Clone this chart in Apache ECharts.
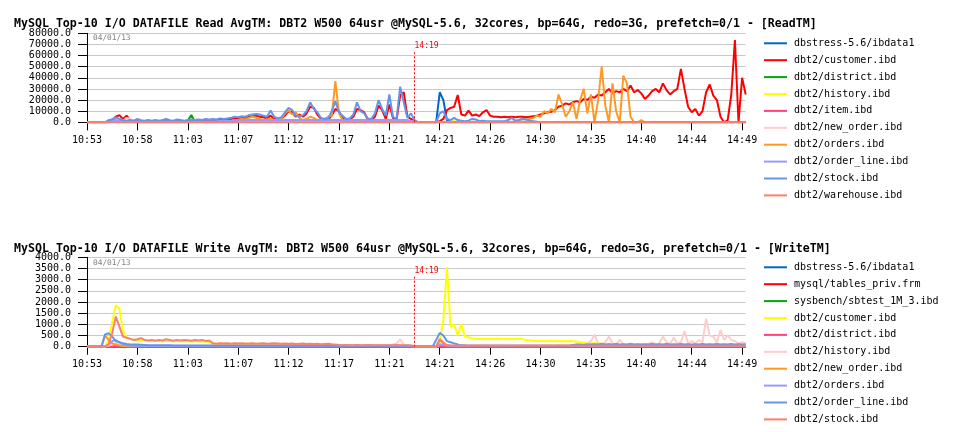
<!DOCTYPE html>
<html>
<head>
<meta charset="utf-8">
<script src="https://cdn.jsdelivr.net/npm/echarts@6.0.0/dist/echarts.min.js"></script>
<style>
html,body{margin:0;padding:0;background:#ffffff;}
#chart{width:962px;height:432px;}
</style>
</head>
<body>
<div id="chart"></div>
<script>
const tickLabels = ['10:53','10:58','11:03','11:07','11:12','11:17','11:21','14:21','14:26','14:30','14:35','14:40','14:44','14:49'];
const restartLabel = '14:19';
const dateLabel = '04/01/13';
const readTitle = 'MySQL Top-10 I/O DATAFILE Read AvgTM: DBT2 W500 64usr @MySQL-5.6, 32cores, bp=64G, redo=3G, prefetch=0/1 - [ReadTM]';
const writeTitle = 'MySQL Top-10 I/O DATAFILE Write AvgTM: DBT2 W500 64usr @MySQL-5.6, 32cores, bp=64G, redo=3G, prefetch=0/1 - [WriteTM]';
const readFiles = ['dbstress-5.6/ibdata1','dbt2/customer.ibd','dbt2/district.ibd','dbt2/history.ibd','dbt2/item.ibd','dbt2/new_order.ibd','dbt2/orders.ibd','dbt2/order_line.ibd','dbt2/stock.ibd','dbt2/warehouse.ibd'];
const writeFiles = ['dbstress-5.6/ibdata1','mysql/tables_priv.frm','sysbench/sbtest_1M_3.ibd','dbt2/customer.ibd','dbt2/district.ibd','dbt2/history.ibd','dbt2/new_order.ibd','dbt2/orders.ibd','dbt2/order_line.ibd','dbt2/stock.ibd'];
const palette = ['#0066cc','#ff0000','#00aa00','#ffff00','#ff4477','#ffcccc','#ff9922','#9999ff','#6495ed','#f88070'];

// ---------- Read AvgTM (one value per 20 s sample) ----------
const readIbdata1 = [
0,0,0,0,0,0,0,0,0,0,0,0,0,0,
0,0,0,0,0,0,0,0,0,0,0,0,0,0,
0,0,0,0,0,0,0,0,0,0,0,0,0,0,
0,0,0,0,0,0,0,0,0,0,0,0,0,0,
0,0,0,0,0,0,0,0,0,0,0,0,0,0,
0,0,0,0,0,0,0,0,0,0,0,0,0,0,
0,0,0,0,0,0,0,0,0,0,0,0,0,0,
27000,20000,2000,0,0,0,0,0,0,0,0,0,0,0,
0,0,0,0,0,0,0,0,0,0,0,0,0,0,
0,0,0,0,0,0,0,0,0,0,0,0,0,0,
0,0,0,0,0,0,0,0,0,0,0,0,0,0,
0,0,0,0,0,0,0,0,0,0,0,0,0,0,
0,0,0,0,0,0,0,0,0,0,0,0,0,0,
0,0];
const readCustomer = [
0,0,0,0,0,0,0,2000,5000,6500,3000,6000,2000,1000,
1500,1000,800,1200,1000,1500,1000,1200,2000,1000,1000,1500,1200,1000,
1200,1500,1200,1500,1200,2000,1500,2000,1500,2500,2000,2500,3000,3500,
3000,4000,3500,5000,5500,6000,5000,4500,3500,6000,3000,2500,3000,6000,
10000,9000,5000,7000,5000,8000,14000,13000,7000,3000,2000,2500,6000,12000,
10000,4000,2000,2500,5000,12000,11000,9000,2500,2000,5000,15000,11000,3000,
16000,4000,2000,24000,27000,5000,3000,1000,0,0,0,0,0,0,
1000,3000,11000,13000,14000,24500,7000,6000,10500,6000,7000,5500,9000,11000,
6000,5000,5000,4500,5000,4500,5000,4500,5000,5000,4500,5000,5500,6000,
7000,8000,9000,9500,11000,14000,15000,17000,16000,18000,19000,18000,21000,20000,
23000,22000,25000,24000,27000,30000,26000,28000,27000,30000,28000,33000,27000,29000,
26000,21000,24000,28000,30000,27000,35000,29000,25000,28000,30000,48000,30000,14000,
9000,12000,6000,10000,27000,34000,24000,20000,5000,0,2000,25000,74000,0,
40000,25000];
const readDistrict = [
0,0,0,0,0,0,0,2500,0,0,0,0,0,0,
0,0,0,0,0,0,0,0,0,0,0,0,0,0,
1500,6500,0,0,0,0,0,0,0,0,0,0,0,0,
0,0,0,0,0,0,0,0,0,0,0,0,0,0,
0,0,0,0,0,0,0,0,0,0,0,0,0,0,
0,0,0,0,0,0,0,0,0,0,0,0,0,0,
0,0,0,0,0,0,0,0,0,0,0,0,0,0,
0,0,0,0,0,0,0,0,0,0,0,0,0,0,
0,0,0,0,0,0,0,0,0,0,0,0,0,0,
0,0,0,0,0,0,0,0,0,0,0,0,0,0,
0,0,0,0,0,0,0,0,0,0,0,0,0,0,
0,0,0,0,0,0,0,0,0,0,0,0,0,0,
0,0,0,0,0,0,0,0,0,0,0,0,0,0,
0,0];
const readHistory = [
0,0,0,0,0,0,0,0,0,0,0,0,0,0,
0,0,0,0,0,0,0,0,0,0,0,0,0,0,
0,0,0,0,0,0,0,0,0,0,0,0,0,0,
0,0,0,0,0,0,0,0,0,0,0,0,0,0,
0,0,0,0,0,0,0,0,0,0,0,0,0,0,
0,0,0,0,0,0,0,0,0,0,0,0,0,0,
0,0,0,0,0,0,0,0,0,0,0,0,0,0,
0,0,0,0,1500,0,0,0,0,0,0,0,0,0,
0,0,0,0,0,0,0,0,0,0,0,0,0,0,
0,0,0,0,0,0,0,0,0,0,0,0,0,0,
0,0,0,0,0,0,0,0,0,0,0,0,0,0,
0,0,0,0,0,0,0,0,0,0,0,0,0,0,
0,0,0,0,0,0,0,0,0,0,0,0,0,0,
0,0];
const readItem = [
0,0,0,0,0,0,0,0,0,1500,0,0,0,0,
0,0,0,0,0,0,0,0,0,0,0,0,0,0,
0,0,0,0,0,0,0,0,0,0,0,0,0,0,
0,0,0,0,0,0,0,0,0,0,0,0,0,0,
0,0,0,0,0,0,0,0,0,0,0,0,0,0,
0,0,0,0,0,0,0,0,0,0,0,0,0,0,
0,0,0,0,0,0,0,0,0,0,0,0,0,0,
0,0,0,0,0,0,0,0,0,0,0,0,0,0,
0,0,0,0,0,0,0,0,0,0,0,0,0,0,
0,0,0,0,0,0,0,0,0,0,0,0,0,0,
0,0,0,0,0,0,0,0,0,0,0,0,0,0,
0,0,0,0,0,0,0,0,0,0,0,0,0,0,
0,0,0,0,0,0,0,0,0,0,0,0,0,0,
0,0];
const readNewOrder = [
0,0,0,0,0,0,0,0,0,0,1000,4000,3000,0,
0,0,0,0,0,0,0,0,0,0,0,0,0,0,
0,0,0,0,0,0,0,0,0,0,0,0,0,0,
0,0,0,0,0,0,0,0,0,0,0,0,0,0,
0,0,0,0,0,0,0,0,0,0,0,0,0,0,
0,0,0,0,0,0,0,0,0,0,0,0,0,0,
0,0,0,0,0,0,0,0,0,0,0,0,0,0,
0,0,0,0,0,0,0,0,0,0,0,0,0,0,
0,0,0,0,0,0,0,0,0,0,0,0,0,0,
0,0,0,0,0,0,0,0,0,0,0,0,0,0,
0,0,0,0,0,0,0,0,0,0,0,0,0,0,
0,0,0,0,0,0,0,0,0,0,0,0,0,0,
0,0,0,0,0,0,0,0,0,0,0,0,0,0,
0,0];
const readOrders = [
0,0,0,0,0,0,0,0,0,0,0,0,0,0,
0,0,0,0,0,0,0,0,0,0,0,0,0,0,
0,0,0,0,0,0,0,0,0,0,0,0,500,1000,
2000,3000,2500,4000,5000,4000,3000,2000,2500,3000,2000,1500,3000,8000,
11000,7000,9000,4000,2000,3000,5000,4000,2000,1500,3000,5000,6000,37000,
8000,2000,1500,1000,2000,1500,1000,1500,1000,2000,1000,1500,1000,1000,
1000,1500,1000,1000,1500,1000,1000,500,0,0,0,0,0,0,
0,0,0,0,0,0,0,0,0,0,0,0,0,0,
0,0,0,0,0,0,500,1000,2000,3000,2500,3000,4000,6000,
5000,10000,8000,12000,9000,25000,16000,5000,10000,18000,3000,20000,30000,8000,
25000,0,20000,50000,15000,0,35000,10000,0,42000,35000,5000,0,0,
2000,0,0,0,0,0,0,0,0,0,0,0,0,0,
0,0,0,0,0,0,0,0,0,0,0,0,0,0,
0,0];
const readOrderLine = [
0,0,0,0,0,0,1000,1500,2000,1500,1000,1000,1000,1000,
1000,1000,1000,1000,1000,1000,1000,1000,1000,1000,1000,1000,1000,1000,
1000,1000,1000,1000,1000,1000,1000,1000,1000,1500,1500,1500,1500,2000,
2000,2000,2000,2000,2000,2000,2000,2000,2000,2000,2000,2000,2000,2000,
2000,2000,2000,2000,2000,2000,2000,2000,2000,2000,2000,2000,2000,2000,
2000,2000,2000,2000,2000,2000,2000,2000,2000,2000,2000,2000,2000,2000,
2000,2000,2000,2000,2000,2000,1000,1000,0,0,0,0,0,0,
0,0,0,0,0,0,0,0,0,0,0,0,0,0,
0,0,0,0,0,0,0,0,0,0,0,0,0,0,
0,0,0,0,0,0,0,0,0,0,0,0,0,0,
0,0,0,0,0,0,0,0,0,0,0,0,0,0,
0,0,0,0,0,0,0,0,0,0,0,0,0,0,
0,0,0,0,0,0,0,0,0,0,0,0,0,0,
0,0];
const readStock = [
0,0,0,0,0,0,2000,2500,4500,3000,2000,1500,2000,1500,
3000,1800,1500,2000,1500,2000,1500,2000,3000,1800,1500,2500,2000,1500,
2000,2500,2000,2500,2000,3000,2500,3000,2500,3500,3000,3500,4000,5000,
4500,5500,5000,6500,7000,7500,7000,6000,5000,10500,5000,3500,4500,9000,
13000,11000,6000,5000,6500,10000,18000,12000,9000,4000,3000,3500,10000,19000,
9000,6000,3000,3500,7000,18000,10000,8000,3500,3000,8000,20000,12000,6000,
25000,5000,3000,32000,18000,4000,8000,2000,0,0,0,0,0,0,
8000,10000,3000,2000,4000,2000,1500,1000,1500,3000,2500,1000,1500,1000,
1000,1000,1000,1000,1000,2000,4000,1500,2000,3000,2500,1500,1000,500,
0,0,0,0,0,0,0,0,0,0,0,0,0,0,
0,0,0,0,0,0,0,0,0,0,0,0,0,0,
0,0,0,0,0,0,0,0,0,0,0,0,0,0,
0,0,0,0,0,0,0,0,0,0,0,0,0,0,
0,0];
const readWarehouse = [
0,0,0,0,0,0,0,0,0,0,0,0,0,0,
0,0,0,0,0,0,0,0,0,0,0,0,0,0,
0,0,0,0,0,0,0,0,0,0,0,0,0,0,
0,0,0,0,0,0,0,0,0,0,0,0,0,0,
0,0,0,0,0,0,0,0,0,0,0,0,0,0,
0,0,0,0,0,0,0,0,0,0,0,0,0,0,
0,0,0,0,0,0,0,0,0,0,0,0,0,0,
0,0,0,0,0,0,0,0,0,0,0,0,0,0,
0,0,0,0,0,0,0,0,0,0,0,0,0,0,
0,0,0,0,0,0,0,0,0,0,0,0,0,0,
0,0,0,0,0,0,0,0,0,0,0,0,0,0,
0,0,0,0,0,0,0,0,0,0,0,0,0,0,
0,0,0,0,0,0,0,0,0,0,0,0,0,0,
0,0];

// ---------- Write AvgTM ----------
const writeIbdata1 = readWarehouse.slice(0, 0).concat([
0,0,0,0,0,0,0,0,0,0,0,0,0,0,
0,0,0,0,0,0,0,0,0,0,0,0,0,0,
0,0,0,0,0,0,0,0,0,0,0,0,0,0,
0,0,0,0,0,0,0,0,0,0,0,0,0,0,
0,0,0,0,0,0,0,0,0,0,0,0,0,0,
0,0,0,0,0,0,0,0,0,0,0,0,0,0,
0,0,0,0,0,0,0,0,0,0,0,0,0,0,
0,0,0,0,0,0,0,0,0,0,0,0,0,0,
0,0,0,0,0,0,0,0,0,0,0,0,0,0,
0,0,0,0,0,0,0,0,0,0,0,0,0,0,
0,0,0,0,0,0,0,0,0,0,0,0,0,0,
0,0,0,0,0,0,0,0,0,0,0,0,0,0,
0,0,0,0,0,0,0,0,0,0,0,0,0,0,
0,0]);
const writeTablesPriv = [
0,0,0,0,0,0,0,0,0,0,0,0,0,0,
0,0,0,0,0,0,0,0,0,0,0,0,0,0,
0,0,0,0,0,0,0,0,0,0,0,0,0,0,
0,0,0,0,0,0,0,0,0,0,0,0,0,0,
0,0,0,0,0,0,0,0,0,0,0,0,0,0,
0,0,0,0,0,0,0,0,0,0,0,0,0,0,
0,0,0,0,0,0,0,0,0,0,0,0,0,0,
0,0,0,0,0,0,0,0,0,0,0,0,0,0,
0,0,0,0,0,0,0,0,0,0,0,0,0,0,
0,0,0,0,0,0,0,0,0,0,0,0,0,0,
0,0,0,0,0,0,0,0,0,0,0,0,0,0,
0,0,0,0,0,0,0,0,0,0,0,0,0,0,
0,0,0,0,0,0,0,0,0,0,0,0,0,0,
0,0];
const writeSbtest = [
0,0,0,0,0,0,0,0,0,0,0,0,0,0,
0,0,0,0,0,0,0,0,0,0,0,0,0,0,
0,0,0,0,0,0,0,0,0,0,0,0,0,0,
0,0,0,0,0,0,0,0,0,0,0,0,0,0,
0,0,0,0,0,0,0,0,0,0,0,0,0,0,
0,0,0,0,0,0,0,0,0,0,0,0,0,0,
0,0,0,0,0,0,0,0,0,0,0,0,0,0,
0,0,0,0,0,0,0,0,0,0,0,0,0,0,
0,0,0,0,0,0,0,0,0,0,0,0,0,0,
0,0,0,0,0,0,0,0,0,0,0,0,0,0,
0,0,0,0,0,0,0,0,0,0,0,0,0,0,
0,0,0,0,0,0,0,0,0,0,0,0,0,0,
0,0,0,0,0,0,0,0,0,0,0,0,0,0,
0,0];
const writeCustomer = [
0,0,0,0,0,0,300,1100,1850,1700,700,400,350,300,
280,250,300,260,240,280,250,230,270,250,240,260,230,250,
240,220,250,230,240,220,200,140,130,140,120,130,130,120,
130,120,140,130,110,130,120,130,110,120,130,110,120,100,
110,100,120,100,110,90,100,80,90,70,80,70,60,70,
60,70,50,60,50,60,50,40,50,60,40,50,40,50,
40,50,40,50,40,30,40,20,0,0,0,0,0,0,
200,1200,3550,900,1000,500,1000,450,420,380,350,360,350,340,
340,350,360,350,340,350,360,340,350,330,300,280,260,250,
250,240,250,260,250,240,250,240,250,240,230,200,190,170,
160,150,150,140,130,120,110,100,60,40,40,30,30,40,
40,30,40,30,40,30,40,30,40,30,40,30,40,30,
40,30,40,30,40,30,40,30,40,30,40,30,40,30,
40,30];
const writeDistrict = [
0,0,0,0,0,0,0,0,0,0,0,0,0,0,
0,0,0,0,0,0,0,0,0,0,0,0,0,0,
0,0,0,0,0,0,0,0,0,0,0,0,0,0,
0,0,0,0,0,0,0,0,0,0,0,0,0,0,
0,0,0,0,0,0,0,0,0,0,0,0,0,0,
0,0,0,0,0,0,0,0,0,0,0,0,0,0,
0,0,0,0,0,0,0,0,0,0,0,0,0,0,
0,0,0,0,0,0,0,0,0,0,0,0,0,0,
0,0,0,0,0,0,0,0,0,0,0,0,0,0,
0,0,0,0,0,0,0,0,0,0,0,0,0,0,
0,0,0,0,0,0,0,0,0,0,0,0,0,0,
0,0,0,0,0,0,0,0,0,0,0,0,0,0,
0,0,0,0,0,0,0,0,0,0,0,0,0,0,
0,0];
const writeHistory = [
0,0,0,0,0,0,50,100,150,100,60,50,50,50,
40,50,40,50,40,50,40,50,40,50,40,50,40,50,
40,50,40,50,40,50,40,50,40,50,40,50,40,50,
40,50,40,50,40,50,40,50,40,50,40,50,40,50,
40,50,40,50,40,50,40,50,40,50,40,50,40,50,
40,50,40,50,40,50,40,50,40,50,40,50,40,50,
50,100,150,330,80,40,40,20,0,0,0,0,0,0,
100,150,80,60,60,50,60,50,60,50,60,50,60,50,
60,50,60,50,60,50,60,50,60,50,60,50,60,50,
60,50,60,50,60,70,60,50,80,60,100,80,60,150,
250,550,150,100,200,450,150,100,300,100,80,150,100,80,
100,80,120,200,100,150,450,200,120,400,150,200,700,150,
250,150,300,200,1250,500,450,200,750,300,520,300,250,150,
200,150];
const writeNewOrder = [
0,0,0,0,0,500,300,150,100,50,30,20,20,20,
20,20,20,20,20,20,20,20,20,20,20,20,20,20,
20,20,20,20,20,20,20,20,20,20,20,20,20,20,
20,20,20,20,20,20,20,20,20,20,20,20,20,20,
20,20,20,20,20,20,20,20,20,20,20,20,20,20,
20,20,20,20,20,20,20,20,20,20,20,20,20,20,
20,20,20,20,20,20,20,10,0,0,0,0,0,0,
350,200,50,20,20,20,20,20,20,20,20,20,20,20,
20,20,20,20,20,20,20,20,20,20,20,20,20,20,
20,20,20,20,20,20,20,20,20,20,20,20,20,20,
20,20,20,20,20,20,20,20,20,20,20,20,20,20,
20,20,20,20,20,20,20,20,20,20,20,20,20,20,
20,20,20,20,20,20,20,20,20,20,20,20,20,20,
20,20];
const writeOrders = [
0,0,0,0,0,0,100,250,300,200,100,60,50,40,
30,30,30,30,30,30,30,30,30,30,30,30,30,30,
30,30,30,30,30,30,30,30,30,30,30,30,30,30,
30,30,30,30,30,30,30,30,30,30,30,30,30,30,
30,30,30,30,30,30,30,30,30,30,30,30,30,30,
30,30,30,30,30,30,30,30,30,30,30,30,30,30,
30,30,30,30,30,30,30,20,0,0,0,0,0,0,
100,80,50,30,30,30,30,30,30,30,30,30,30,30,
30,30,30,30,30,30,30,30,30,30,30,30,30,30,
30,30,30,30,30,30,30,30,30,30,30,30,30,30,
30,30,30,30,30,30,30,30,30,30,30,30,30,30,
30,30,30,30,30,30,30,30,30,30,30,30,30,30,
30,30,30,30,30,30,30,30,30,30,30,30,30,30,
30,30];
const writeOrderLine = [
0,0,0,0,0,550,600,450,250,200,150,120,100,100,
100,90,80,70,70,60,60,60,60,60,50,50,50,50,
50,50,50,50,50,50,50,50,50,50,50,50,50,50,
50,50,50,50,50,50,50,50,50,50,50,50,50,50,
50,50,50,50,50,50,50,50,50,50,40,40,40,40,
40,40,40,40,40,40,40,40,40,40,40,40,40,40,
40,40,40,40,40,40,40,20,0,0,0,0,0,300,
620,500,250,200,150,100,60,50,40,40,40,40,40,40,
40,40,40,40,40,40,40,40,40,40,40,40,40,40,
40,40,40,40,40,40,40,40,40,80,100,100,90,100,
100,110,100,120,100,110,100,120,100,110,100,120,100,110,
100,110,100,120,100,110,100,120,100,110,100,120,100,110,
100,110,100,120,100,110,100,120,100,110,100,120,100,110,
100,110];
const writeStock = [
0,0,0,0,0,0,100,600,1350,900,450,400,350,300,
330,380,300,280,300,270,300,280,330,300,270,300,280,300,
290,270,300,280,300,260,280,150,130,150,140,150,130,150,
140,150,130,140,150,130,140,150,130,140,150,140,130,140,
130,140,120,130,140,120,130,120,130,110,120,130,110,100,
80,70,80,60,70,80,60,70,80,60,70,60,70,60,
70,60,80,60,70,60,50,30,0,0,0,0,0,0,
300,150,60,50,40,50,40,50,40,50,40,50,40,50,
40,50,40,50,40,50,40,50,40,50,40,50,40,50,
40,50,40,50,40,50,40,50,40,50,40,50,40,50,
40,50,40,50,40,50,40,50,40,50,40,50,40,50,
40,50,40,50,40,50,40,50,40,50,40,50,40,50,
40,50,40,50,40,50,40,50,40,50,40,50,40,50,
40,50];

const readData = [readIbdata1, readCustomer, readDistrict, readHistory, readItem, readNewOrder, readOrders, readOrderLine, readStock, readWarehouse];
const writeData = [writeIbdata1, writeTablesPriv, writeSbtest, writeCustomer, writeDistrict, writeHistory, writeNewOrder, writeOrders, writeOrderLine, writeStock];

// sample time stamps (20 s samples, two runs separated by a restart)
function hhmmss(sec){
  const h = Math.floor(sec/3600), m = Math.floor(sec%3600/60), s = sec%60;
  return String(h).padStart(2,'0')+':'+String(m).padStart(2,'0')+':'+String(s).padStart(2,'0');
}
const categories = readStock.map((_, i) => i < 92 ? hhmmss(10*3600+53*60+50 + i*20) : hhmmss(14*3600+19*60+30 + (i-92)*20));
const restartIndex = 91;

const FONT = "'DejaVu Sans Mono', monospace";

function xAxisFor(gi){
  return {
    type:'category', gridIndex:gi, data:categories, boundaryGap:false,
    axisLine:{show:true, lineStyle:{color:'#000', width:1}},
    axisTick:{show:true, interval:13, length:8, lineStyle:{color:'#000', width:1}},
    axisLabel:{interval:13, formatter:(v,i)=>tickLabels[Math.round(i/14)], fontFamily:FONT, fontSize:10, color:'#000', margin:13},
    splitLine:{show:false}
  };
}
function yAxisFor(gi, max, step){
  return {
    type:'value', gridIndex:gi, min:0, max:max, interval:step,
    axisLine:{show:true, lineStyle:{color:'#000', width:1}},
    axisTick:{show:true, length:9, lineStyle:{color:'#000', width:1}},
    axisLabel:{formatter:v=>v.toFixed(1), fontFamily:FONT, fontSize:10, color:'#000', margin:16},
    splitLine:{show:true, lineStyle:{color:'#c8c8c8', width:1}}
  };
}
function seriesFor(names, data, gi, markTop){
  return names.map((n,k)=>{
    const s = {
      type:'line', name:n, xAxisIndex:gi, yAxisIndex:gi, data:data[k],
      symbol:'none', showSymbol:false, silent:true, animation:false,
      lineStyle:{width:2, color:palette[k]}, itemStyle:{color:palette[k]}
    };
    if (k===0){
      s.markLine = {
        silent:true, symbol:['none','none'], animation:false,
        lineStyle:{color:'#ff0000', type:[2,2], width:1},
        label:{show:true, position:'end', formatter:restartLabel, color:'#ff0000', fontFamily:FONT, fontSize:8, align:'left', distance:1},
        data:[[{coord:[restartIndex,0]},{coord:[restartIndex,markTop]}]]
      };
    }
    return s;
  });
}
function legendFor(names, top){
  return {
    orient:'vertical', left:764, top:top, padding:0, itemWidth:23, itemHeight:2, itemGap:4.9, icon:'rect',
    selectedMode:false,
    textStyle:{fontFamily:FONT, fontSize:10, lineHeight:12, color:'#000', padding:[0,0,0,2]},
    data:names.map((n,k)=>({name:n, itemStyle:{color:palette[k]}, lineStyle:{color:palette[k]}}))
  };
}

const chart = echarts.init(document.getElementById('chart'), null, {renderer:'canvas'});
chart.setOption({
  animation:false,
  backgroundColor:'#ffffff',
  textStyle:{fontFamily:FONT},
  title:[
    {text:readTitle, left:14, top:18, padding:0, textStyle:{fontFamily:FONT, fontWeight:'bold', fontSize:11.6, color:'#000'}},
    {text:writeTitle, left:14, top:243, padding:0, textStyle:{fontFamily:FONT, fontWeight:'bold', fontSize:11.6, color:'#000'}},
    {text:dateLabel, left:93, top:34, padding:0, textStyle:{fontFamily:FONT, fontWeight:'normal', fontSize:7.8, color:'#808080'}},
    {text:dateLabel, left:93, top:259, padding:0, textStyle:{fontFamily:FONT, fontWeight:'normal', fontSize:7.8, color:'#808080'}}
  ],
  legend:[legendFor(readFiles, 37.3), legendFor(writeFiles, 261.3)],
  grid:[
    {left:87, top:33.3, width:658.7, height:89},
    {left:87, top:257.3, width:658.7, height:89.4}
  ],
  xAxis:[xAxisFor(0), xAxisFor(1)],
  yAxis:[yAxisFor(0, 80000, 10000), yAxisFor(1, 4000, 500)],
  series: seriesFor(readFiles, readData, 0, 64000).concat(seriesFor(writeFiles, writeData, 1, 3150))
});
</script>
</body>
</html>
